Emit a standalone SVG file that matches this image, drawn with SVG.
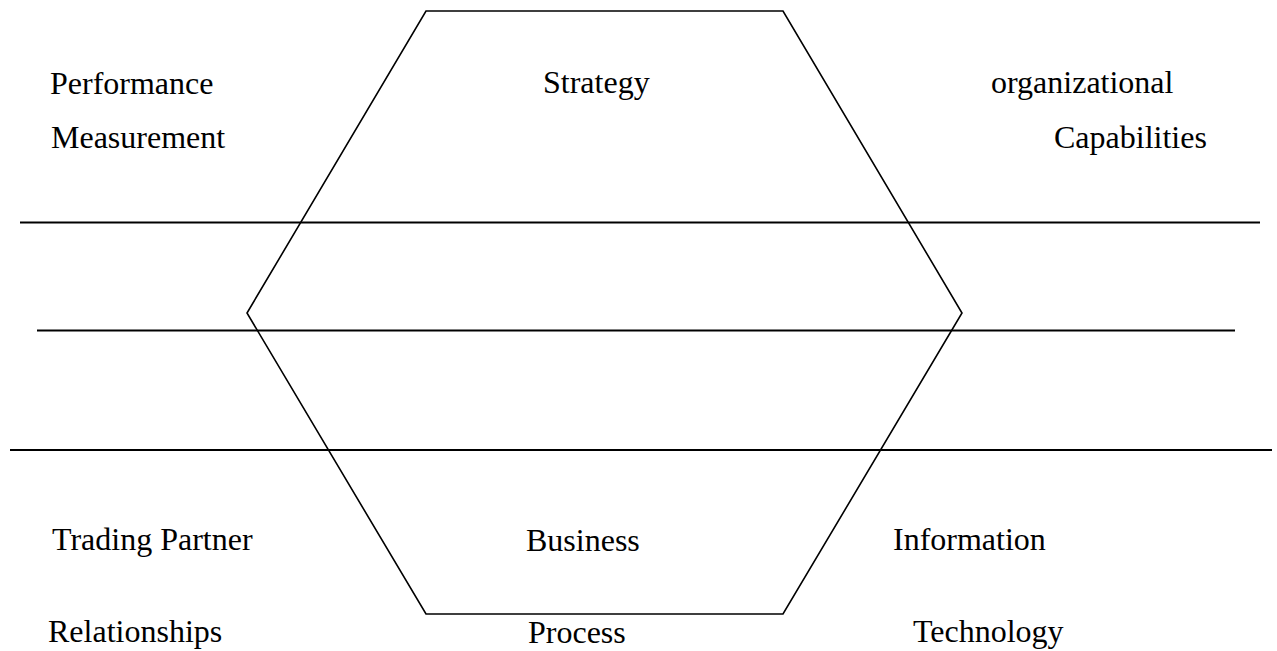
<svg xmlns="http://www.w3.org/2000/svg" width="1277" height="651" viewBox="0 0 1277 651">
<style>
text{font-family:"Liberation Serif","Times New Roman",serif;font-size:32px;fill:#000}
.ln{stroke:#000;stroke-width:2;fill:none}
.hex{stroke:#000;stroke-width:1.6;fill:none;stroke-linejoin:miter}
</style>
<rect width="1277" height="651" fill="#fff"/>
<g id="connectors">
<line class="ln" x1="20" y1="222.5" x2="1260" y2="222.5"/>
<line class="ln" x1="37" y1="330.5" x2="1235" y2="330.5"/>
<line class="ln" x1="10" y1="450" x2="1272" y2="450"/>
</g>
<g id="hexagon">
<polygon class="hex" points="426,11 783,11 962,313 783,614 426,614 247,313"/>
</g>
<g id="strategy"><text x="543" y="93">Strategy</text></g>
<g id="performance"><text x="50" y="94">Performance</text><text x="51" y="148">Measurement</text></g>
<g id="organizational"><text x="991" y="93">organizational</text><text x="1054" y="148">Capabilities</text></g>
<g id="trading"><text x="52" y="550">Trading Partner</text><text x="48" y="642">Relationships</text></g>
<g id="business"><text x="526" y="551">Business</text><text x="528" y="643">Process</text></g>
<g id="information"><text x="893" y="550">Information</text><text x="913" y="642">Technology</text></g>
</svg>
